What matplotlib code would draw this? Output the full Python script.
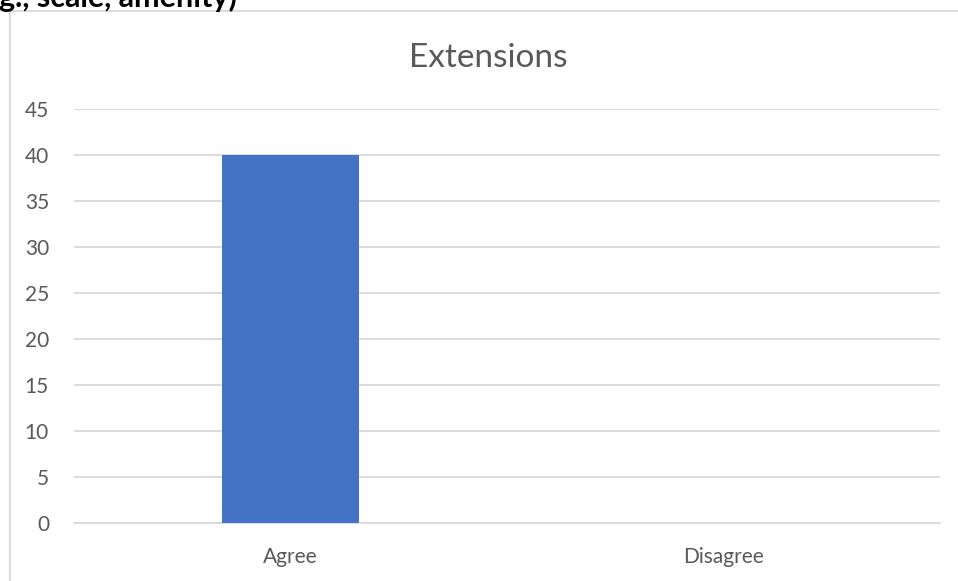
import matplotlib.pyplot as plt
from matplotlib.patches import Rectangle

categories = ["Agree", "Disagree"]
values = [40, 0]
title = "Extensions"
y_ticks = [0, 5, 10, 15, 20, 25, 30, 35, 40, 45]

W, H = 958, 581
fig = plt.figure(figsize=(W / 100, H / 100), dpi=100)
plt.rcParams['font.family'] = ['Lato', 'DejaVu Sans']

# chart frame (cut by the image edges)
fig.patches.append(Rectangle((10 / W, -0.05), 1.1, (H - 11) / H + 0.05,
                             transform=fig.transFigure, fill=False,
                             edgecolor='#d9d9d9', linewidth=1.3))

# document text cut at the top
fig.text(-1 / W, 1 - 7 / H, "g., scale, amenity)", fontsize=22, fontweight='bold',
         color='black', va='baseline', ha='left')

ax = fig.add_axes([74 / W, 1 - 523 / H, (940 - 74) / W, (523 - 109) / H])
x = range(len(categories))
ax.bar(x, values, width=0.316, color='#4472c4', zorder=3)
ax.set_xlim(-0.5, 1.5)
ax.set_ylim(0, 45)
ax.set_yticks(y_ticks)
ax.set_xticks(list(x))
ax.set_xticklabels(categories)
ax.grid(axis='y', color='#d9d9d9', linewidth=1.3, zorder=0)
for s in ['top', 'right', 'left']:
    ax.spines[s].set_visible(False)
ax.spines['bottom'].set_color('#d9d9d9')
ax.spines['bottom'].set_linewidth(1.3)
ax.tick_params(axis='both', length=0, labelsize=15, colors='#595959')
ax.tick_params(axis='y', pad=18)
ax.tick_params(axis='x', pad=17)

# title is centred on the whole chart frame, not the plot area
fig.text(488 / W, 1 - 67 / H, title, fontsize=24, color='#595959',
         ha='center', va='baseline')

fig.savefig("out.png", dpi=100)
